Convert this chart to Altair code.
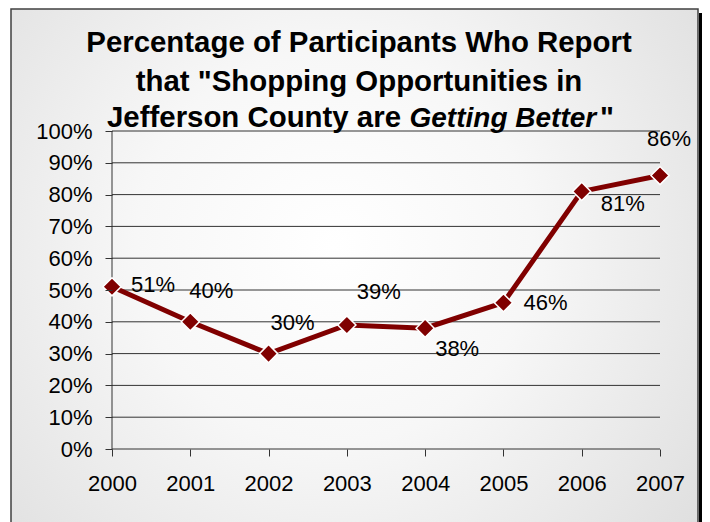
import altair as alt
import pandas as pd

# ---- data -------------------------------------------------------------
YEARS = ["2000", "2001", "2002", "2003", "2004", "2005", "2006", "2007"]
PCT = [51, 40, 30, 39, 38, 46, 81, 86]
LABELS = ["51%", "40%", "30%", "39%", "38%", "46%", "81%", "86%"]
TICKS = [0, 10, 20, 30, 40, 50, 60, 70, 80, 90, 100]
TITLE_1 = "Percentage of Participants Who Report"
TITLE_2 = 'that "Shopping Opportunities in'
TITLE_3A = "Jefferson County are"
TITLE_3B = "Getting Better"
TITLE_3C = '"'

df = pd.DataFrame({"year": YEARS, "pct": PCT, "label": LABELS})
grid_df = pd.DataFrame({"pct": TICKS})
one = pd.DataFrame({"k": [0]})

# ---- styles -----------------------------------------------------------
FONT = "Liberation Sans"
RED = "#800000"
GRID = "#333333"
W, H = 548, 318

# label offsets (dx, dy) per year, as placed in the original chart
LABEL_OFFSETS = {
    "2000": (19, 5),
    "2001": (-1, -24),
    "2002": (2, -24),
    "2003": (10, -26),
    "2004": (10, 28),
    "2005": (20, 7),
    "2006": (19, 20),
    "2007": (-13, -30),
}

x_enc = alt.X(
    "year:O",
    scale=alt.Scale(type="point", padding=0),
    axis=alt.Axis(
        title=None, labelAngle=0, domain=False, grid=False,
        tickSize=7, tickColor=GRID, tickWidth=1,
        labelFont=FONT, labelFontSize=22, labelColor="black",
        labelPadding=17, zindex=1,
    ),
)
y_enc = alt.Y(
    "pct:Q",
    scale=alt.Scale(domain=[0, 100], nice=False, zero=True),
    axis=alt.Axis(
        title=None, values=TICKS, labelExpr="datum.value + '%'",
        domain=False, grid=False,
        tickSize=7, tickColor=GRID, tickWidth=1,
        labelFont=FONT, labelFontSize=22, labelColor="black",
        labelPadding=13, zindex=1,
    ),
)

gradient = alt.Gradient(
    gradient="radial",
    stops=[
        alt.GradientStop(color="#ffffff", offset=0),
        alt.GradientStop(color="#f7f7f7", offset=0.4),
        alt.GradientStop(color="#dcdcdc", offset=1),
    ],
    x1=0.47, y1=0.45, r1=0, x2=0.47, y2=0.45, r2=0.72,
)

frame = alt.Chart(one).mark_rect(
    fill=gradient, stroke="#404040", strokeWidth=1.5
).encode(
    x=alt.value(-101), x2=alt.value(586), y=alt.value(-122), y2=alt.value(420)
)

# dark drop shadow along the right edge
shadow = alt.Chart(one).mark_rect(color="black").encode(
    x=alt.value(587), x2=alt.value(592), y=alt.value(-118), y2=alt.value(420)
)

grid = alt.Chart(grid_df).mark_rule(color=GRID, strokeWidth=1).encode(y=y_enc)

yline = alt.Chart(pd.DataFrame({"pct": [0], "pct2": [100]})).mark_rule(
    color=GRID, strokeWidth=1
).encode(x=alt.value(0), y=y_enc, y2="pct2:Q")

line = alt.Chart(df).mark_line(color=RED, strokeWidth=5).encode(x=x_enc, y=y_enc)

points = alt.Chart(df).mark_point(
    shape="diamond", filled=True, fill=RED, stroke="white", strokeWidth=1.5,
    size=330, opacity=1, fillOpacity=1, strokeOpacity=1,
).encode(x=x_enc, y=y_enc)

label_layers = []
for yr in YEARS:
    dx, dy = LABEL_OFFSETS[yr]
    label_layers.append(
        alt.Chart(df)
        .transform_filter(alt.datum.year == yr)
        .mark_text(
            align="left", baseline="alphabetic", dx=dx, dy=dy,
            font=FONT, fontSize=22, color="black",
        )
        .encode(x=x_enc, y=y_enc, text="label:N")
    )


def title_text(txt, x, y, align, size=29.4, style="normal"):
    return alt.Chart(pd.DataFrame({"t": [txt]})).mark_text(
        font=FONT, fontSize=size, fontWeight="bold", fontStyle=style,
        align=align, baseline="alphabetic", color="black",
    ).encode(x=alt.value(x), y=alt.value(y), text="t:N")


titles = [
    title_text(TITLE_1, 247, -79, "center"),
    title_text(TITLE_2, 247, -40, "center"),
    title_text(TITLE_3A, 289, -4, "right"),
    title_text(TITLE_3B, 297.5, -4, "left", size=28, style="italic"),
    title_text(TITLE_3C, 488, -4, "left"),
]

chart = (
    alt.layer(frame, grid, yline, line, points, *label_layers, *titles, shadow)
    .properties(
        width=W, height=H,
        autosize=alt.AutoSizeParams(type="none"),
        padding={"left": 104, "top": 123, "right": 42, "bottom": 73},
        background="white",
    )
    .configure_view(stroke=None)
)

chart.save("out.html", embed_options={"renderer": "svg", "actions": False})
